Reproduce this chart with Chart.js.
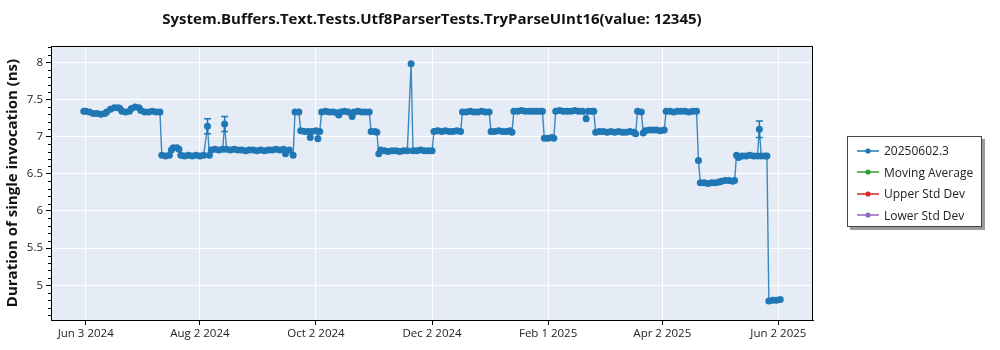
<!DOCTYPE html>
<html>
<head>
<meta charset="utf-8">
<script src="https://cdn.jsdelivr.net/npm/chart.js@4.4.1/dist/chart.umd.min.js"></script>
<style>
  html, body { margin: 0; padding: 0; background: #ffffff; }
  #wrap { position: relative; width: 1000px; height: 350px; overflow: hidden; font-family: "Open Sans", "Noto Sans", sans-serif; }
  #chart { position: absolute; left: 0; top: 0; }
  #title { position: absolute; left: 51px; width: 762px; top: 8px; text-align: center; font-weight: bold; font-size: 15px; color: #111; white-space: nowrap; }
  #legend { position: absolute; left: 847px; top: 136px; width: 135px; height: 91px; border: 1px solid #444; background: #fff; box-shadow: 3px 3px 0 #9a9a9a; box-sizing: border-box; padding-top: 3px; }
  .item { height: 21.5px; display: flex; align-items: center; font-size: 12px; color: #222; }
  .item svg { margin-left: 9px; margin-right: 5px; }
</style>
</head>
<body>
<div id="wrap">
  <canvas id="chart" width="1000" height="350"></canvas>
  <div id="title">System.Buffers.Text.Tests.Utf8ParserTests.TryParseUInt16(value: 12345)</div>
  <div id="legend"></div>
</div>
<script>
// ---------------- DATA ----------------
const dates = [
  "2024-06-02","2024-06-03","2024-06-05","2024-06-07","2024-06-09","2024-06-11","2024-06-13","2024-06-14","2024-06-16","2024-06-18",
  "2024-06-20","2024-06-21","2024-06-22","2024-06-24","2024-06-26","2024-06-27","2024-06-29","2024-07-01","2024-07-02","2024-07-04",
  "2024-07-06","2024-07-08","2024-07-10","2024-07-12",
  "2024-07-13","2024-07-15","2024-07-17","2024-07-18","2024-07-19","2024-07-21","2024-07-22","2024-07-23","2024-07-25","2024-07-27",
  "2024-07-29","2024-07-31","2024-08-02","2024-08-04","2024-08-06","2024-08-07",
  "2024-08-08","2024-08-10","2024-08-12","2024-08-14","2024-08-15","2024-08-16","2024-08-18","2024-08-20","2024-08-22","2024-08-24",
  "2024-08-26","2024-08-28","2024-08-30","2024-09-01","2024-09-03","2024-09-05","2024-09-07","2024-09-09","2024-09-11","2024-09-13",
  "2024-09-15","2024-09-16","2024-09-18","2024-09-20",
  "2024-09-21","2024-09-23",
  "2024-09-24","2024-09-26","2024-09-28","2024-09-29","2024-09-30","2024-10-02","2024-10-03","2024-10-04",
  "2024-10-05","2024-10-07","2024-10-09","2024-10-11","2024-10-13","2024-10-14","2024-10-15","2024-10-17","2024-10-19","2024-10-21",
  "2024-10-22","2024-10-24","2024-10-26","2024-10-28","2024-10-30",
  "2024-10-31","2024-11-02","2024-11-03",
  "2024-11-04","2024-11-05","2024-11-07","2024-11-09","2024-11-11","2024-11-13","2024-11-15","2024-11-17","2024-11-19","2024-11-21",
  "2024-11-22","2024-11-24","2024-11-26","2024-11-28","2024-11-30","2024-12-02",
  "2024-12-03","2024-12-05","2024-12-07","2024-12-09","2024-12-11","2024-12-13","2024-12-15","2024-12-17",
  "2024-12-18","2024-12-20","2024-12-22","2024-12-24","2024-12-26","2024-12-28","2024-12-30","2025-01-01",
  "2025-01-02","2025-01-04","2025-01-06","2025-01-08","2025-01-10","2025-01-12","2025-01-13",
  "2025-01-14","2025-01-16","2025-01-18","2025-01-20","2025-01-22","2025-01-24","2025-01-26","2025-01-28","2025-01-29",
  "2025-01-30","2025-02-01","2025-02-03","2025-02-04",
  "2025-02-05","2025-02-07","2025-02-09","2025-02-11","2025-02-13","2025-02-15","2025-02-17","2025-02-19","2025-02-21","2025-02-22",
  "2025-02-24","2025-02-25",
  "2025-02-26","2025-02-28","2025-03-02","2025-03-04","2025-03-06","2025-03-08","2025-03-10","2025-03-12","2025-03-14","2025-03-16",
  "2025-03-18","2025-03-19",
  "2025-03-20","2025-03-22",
  "2025-03-23","2025-03-24","2025-03-26","2025-03-28","2025-03-30","2025-04-01","2025-04-03",
  "2025-04-04","2025-04-06","2025-04-08","2025-04-10","2025-04-12","2025-04-14","2025-04-16","2025-04-18","2025-04-20",
  "2025-04-21",
  "2025-04-22","2025-04-24","2025-04-26","2025-04-28","2025-04-30","2025-05-02",
  "2025-05-03","2025-05-05","2025-05-07","2025-05-09","2025-05-10",
  "2025-05-11","2025-05-12","2025-05-14","2025-05-16","2025-05-18","2025-05-20","2025-05-22","2025-05-23","2025-05-24","2025-05-26",
  "2025-05-27",
  "2025-05-28","2025-05-30","2025-06-01","2025-06-03"
];
const values = [
  7.34,7.34,7.33,7.31,7.31,7.30,7.31,7.33,7.37,7.39,
  7.39,7.38,7.34,7.33,7.34,7.38,7.40,7.39,7.35,7.33,
  7.33,7.34,7.33,7.33,
  6.75,6.74,6.75,6.82,6.85,6.85,6.83,6.75,6.74,6.75,
  6.74,6.75,6.74,6.75,7.14,6.75,
  6.82,6.83,6.82,6.83,7.17,6.83,6.82,6.83,6.82,6.82,
  6.81,6.82,6.82,6.81,6.82,6.81,6.82,6.82,6.83,6.82,
  6.83,6.77,6.82,6.75,
  7.33,7.33,
  7.08,7.07,7.07,6.99,7.07,7.08,6.97,7.07,
  7.33,7.34,7.33,7.33,7.32,7.29,7.33,7.34,7.33,7.27,
  7.33,7.34,7.33,7.33,7.33,
  7.07,7.07,7.06,
  6.77,6.82,6.81,6.80,6.81,6.81,6.80,6.81,6.81,7.98,
  6.81,6.81,6.82,6.81,6.81,6.81,
  7.07,7.08,7.07,7.08,7.07,7.07,7.08,7.07,
  7.33,7.33,7.34,7.33,7.33,7.34,7.33,7.33,
  7.07,7.07,7.08,7.07,7.07,7.08,7.06,
  7.34,7.34,7.35,7.34,7.34,7.34,7.34,7.34,7.34,
  6.98,6.98,6.99,6.98,
  7.34,7.35,7.34,7.34,7.34,7.35,7.34,7.34,7.24,7.34,
  7.34,7.34,
  7.06,7.07,7.07,7.06,7.07,7.06,7.07,7.06,7.06,7.07,
  7.06,7.04,
  7.34,7.33,
  7.05,7.08,7.09,7.09,7.09,7.08,7.09,
  7.34,7.34,7.33,7.34,7.34,7.34,7.33,7.34,7.34,
  6.68,
  6.38,6.38,6.37,6.38,6.38,6.39,
  6.40,6.41,6.41,6.40,6.41,
  6.75,6.72,6.74,6.74,6.75,6.74,6.74,7.10,6.74,6.74,
  6.74,
  4.79,4.80,4.80,4.81
];
// error bars (date, low, high)
const errDates = ["2024-08-06", "2024-08-15", "2025-05-23"];
const errLow   = [7.04, 7.07, 6.99];
const errHigh  = [7.24, 7.27, 7.21];

const xTickDates  = ["2024-06-03","2024-08-02","2024-10-02","2024-12-02","2025-02-01","2025-04-02","2025-06-02"];
const xTickLabels = ["Jun 3 2024","Aug 2 2024","Oct 2 2024","Dec 2 2024","Feb 1 2025","Apr 2 2025","Jun 2 2025"];
const yTicks = [5, 5.5, 6, 6.5, 7, 7.5, 8];
const yTickLabels = ["5", "5.5", "6", "6.5", "7", "7.5", "8"];

const legendLabels = ["20250602.3", "Moving Average", "Upper Std Dev", "Lower Std Dev"];
const legendColors = ["#1f77b4", "#2ca02c", "#d62728", "#9467bd"];

const chartTitle = "System.Buffers.Text.Tests.Utf8ParserTests.TryParseUInt16(value: 12345)";
const yTitle = "Duration of single invocation (ns)";

// ---------------- BUILD ----------------
const DAY = 86400000;
function t(s) { const p = s.split("-").map(Number); return Date.UTC(p[0], p[1] - 1, p[2]); }
const points = dates.map((d, i) => ({ x: t(d), y: values[i] }));
const xMin = t("2024-06-03") - 18.24 * DAY;
const xMax = t("2024-06-03") + 382.2 * DAY;

const FONT = '"Open Sans", "Noto Sans", sans-serif';

const bgPlugin = {
  id: 'bg',
  beforeDraw(c) {
    const a = c.chartArea, g = c.ctx;
    g.save(); g.fillStyle = '#e5ecf6';
    g.fillRect(a.left, a.top, a.right - a.left, a.bottom - a.top);
    g.restore();
  }
};
const framePlugin = {
  id: 'frame',
  afterDraw(c) {
    const a = c.chartArea, g = c.ctx;
    g.save(); g.strokeStyle = '#000'; g.lineWidth = 1;
    g.strokeRect(Math.round(a.left) + 0.5, Math.round(a.top) + 0.5, Math.round(a.right - a.left) - 1, Math.round(a.bottom - a.top));
    // minor ticks on y axis
    const ys = c.scales.y;
    for (let k = 46; k <= 82; k++) {
      const v = k / 10;
      if (k % 5 === 0) continue;
      const py = Math.round(ys.getPixelForValue(v)) + 0.5;
      if (py < a.top || py > a.bottom) continue;
      g.beginPath(); g.moveTo(a.left - 3, py); g.lineTo(a.left, py); g.stroke();
    }
    g.restore();
  }
};
const errPlugin = {
  id: 'err',
  beforeDatasetsDraw(c) {
    const g = c.ctx, xs = c.scales.x, ys = c.scales.y;
    g.save(); g.strokeStyle = '#1f77b4'; g.lineWidth = 1.5;
    errDates.forEach((d, i) => {
      const px = xs.getPixelForValue(t(d));
      const p1 = ys.getPixelForValue(errLow[i]), p2 = ys.getPixelForValue(errHigh[i]);
      g.beginPath();
      g.moveTo(px, p1); g.lineTo(px, p2);
      g.moveTo(px - 3.5, p1); g.lineTo(px + 3.5, p1);
      g.moveTo(px - 3.5, p2); g.lineTo(px + 3.5, p2);
      g.stroke();
    });
    g.restore();
  }
};

new Chart(document.getElementById('chart'), {
  type: 'line',
  data: {
    datasets: [{
      label: legendLabels[0],
      data: points,
      borderColor: 'rgba(31,119,180,0.85)',
      backgroundColor: '#1f77b4',
      pointBackgroundColor: '#1f77b4',
      pointBorderWidth: 0,
      pointRadius: 3.5,
      pointHoverRadius: 3.5,
      borderWidth: 1.4,
      tension: 0,
      fill: false
    }]
  },
  options: {
    responsive: false,
    animation: false,
    events: [],
    layout: { padding: { top: 46, right: 187, left: 0, bottom: 0 } },
    plugins: { legend: { display: false }, title: { display: false }, tooltip: { enabled: false } },
    scales: {
      x: {
        type: 'linear', min: xMin, max: xMax,
        afterFit(s) { s.height = 30; },
        afterBuildTicks(s) { s.ticks = xTickDates.map(d => ({ value: t(d) })); },
        ticks: {
          autoSkip: false, maxRotation: 0, padding: 2, color: '#222',
          font: { family: FONT, size: 11.5 },
          callback(v) { const i = xTickDates.findIndex(d => t(d) === v); return i >= 0 ? xTickLabels[i] : ''; }
        },
        grid: { color: '#ffffff', lineWidth: 1, tickColor: '#000', tickLength: 5 },
        border: { color: '#000', width: 1 }
      },
      y: {
        min: 4.534, max: 8.219,
        afterFit(s) { s.width = 51; },
        afterBuildTicks(s) { s.ticks = yTicks.map(v => ({ value: v })); },
        ticks: {
          padding: 3, color: '#222', font: { family: FONT, size: 11.5 },
          callback(v) { const i = yTicks.indexOf(v); return i >= 0 ? yTickLabels[i] : ''; }
        },
        title: { display: true, text: yTitle, color: '#111', font: { family: FONT, size: 15, weight: 'bold' }, padding: { top: 4, bottom: 0 } },
        grid: { color: '#ffffff', lineWidth: 1, tickColor: '#000', tickLength: 5 },
        border: { color: '#000', width: 1 }
      }
    }
  },
  plugins: [bgPlugin, errPlugin, framePlugin]
});

// HTML legend
const leg = document.getElementById('legend');
legendLabels.forEach((lab, i) => {
  const row = document.createElement('div');
  row.className = 'item';
  row.innerHTML = '<svg width="22" height="8"><line x1="0" y1="4" x2="22" y2="4" stroke="' + legendColors[i] + '" stroke-width="1.5"/><circle cx="11" cy="4" r="2.6" fill="' + legendColors[i] + '"/></svg>';
  const sp = document.createElement('span'); sp.textContent = lab; row.appendChild(sp);
  leg.appendChild(row);
});
document.getElementById('title').textContent = chartTitle;
</script>
</body>
</html>
